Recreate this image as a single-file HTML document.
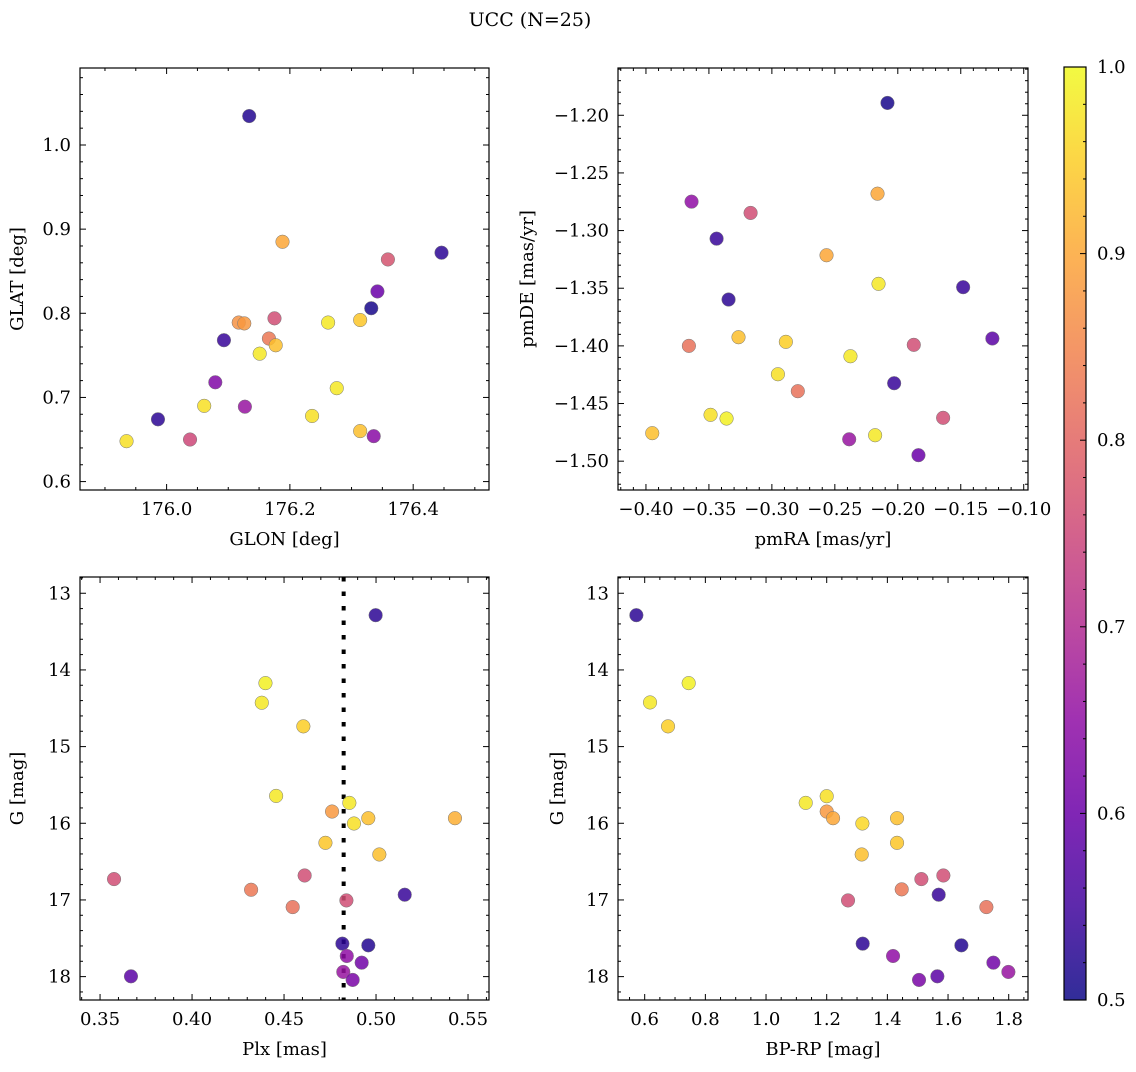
<!DOCTYPE html>
<html><head><meta charset="utf-8"><style>
html,body{margin:0;padding:0;background:#fff;}
svg text{font-family:"DejaVu Serif","Liberation Serif",serif;fill:#000;}
</style></head><body>
<svg id="fig" width="1136" height="1067" viewBox="0 0 1136 1067" xmlns="http://www.w3.org/2000/svg">
<text x="530" y="26" font-size="19" text-anchor="middle">UCC (N=25)</text>
</svg>
<script>
// Panel 1: GLON vs GLAT
const glonX=[176.134,176.188,176.446,176.359,176.342,176.332,176.175,176.117,176.126,176.262,176.314,176.093,176.166,176.177,176.151,176.079,176.276,176.061,176.127,176.236,175.986,175.935,176.038,176.314,176.336];
const glatY=[1.0344,0.885,0.872,0.864,0.826,0.806,0.794,0.789,0.788,0.789,0.792,0.768,0.770,0.762,0.752,0.718,0.711,0.690,0.689,0.678,0.674,0.648,0.650,0.660,0.654];
const probA=[0.52,0.9,0.53,0.77,0.6,0.51,0.76,0.87,0.88,0.98,0.94,0.54,0.83,0.93,0.98,0.63,0.98,0.97,0.66,0.97,0.53,0.97,0.75,0.93,0.64];
// Panel 2: pmRA vs pmDE
const pmraX=[-0.2082,-0.2161,-0.3638,-0.3169,-0.3439,-0.2566,-0.2153,-0.1481,-0.3344,-0.3659,-0.3265,-0.2889,-0.2376,-0.1873,-0.1249,-0.2952,-0.2029,-0.2794,-0.3487,-0.3360,-0.1640,-0.395,-0.2386,-0.2180,-0.1836];
const pmdeY=[-1.1893,-1.268,-1.2749,-1.2847,-1.307,-1.3214,-1.3462,-1.3491,-1.3598,-1.400,-1.3925,-1.3965,-1.409,-1.3991,-1.3936,-1.4246,-1.4324,-1.4393,-1.4598,-1.463,-1.4624,-1.4757,-1.481,-1.4775,-1.4948];
const probB=[0.51,0.9,0.65,0.76,0.54,0.9,0.98,0.54,0.53,0.82,0.93,0.95,0.98,0.76,0.58,0.97,0.54,0.82,0.97,0.99,0.76,0.93,0.66,0.98,0.6];
// Panel 3: Plx vs G
const plxX=[0.4998,0.4399,0.4379,0.4605,0.4457,0.4855,0.4761,0.4958,0.4880,0.5429,0.4725,0.5018,0.3576,0.4612,0.4321,0.4547,0.4839,0.5156,0.4817,0.4958,0.4841,0.4922,0.4822,0.4873,0.3668];
const gmagY=[13.286,14.172,14.428,14.736,15.643,15.734,15.847,15.934,16.003,15.934,16.255,16.407,16.728,16.681,16.867,17.093,17.006,16.932,17.570,17.592,17.731,17.818,17.939,18.043,17.996];
const probC=[0.53,0.99,0.98,0.95,0.98,0.98,0.88,0.93,0.97,0.91,0.94,0.93,0.76,0.76,0.83,0.82,0.76,0.54,0.53,0.52,0.65,0.61,0.66,0.62,0.58];
const plxMedian=[0.4824];
// Panel 4: BP-RP vs G
const bprpX=[0.5725,0.745,0.6176,0.6769,1.1308,1.2,1.2,1.2209,1.3176,1.4319,1.4319,1.3154,1.5121,1.5846,1.4473,1.7264,1.2703,1.5692,1.3187,1.6440,1.4187,1.7495,1.7989,1.5044,1.5648];
const gmag2Y=[13.286,14.172,14.424,14.736,15.734,15.647,15.847,15.934,16.003,15.934,16.255,16.407,16.728,16.681,16.862,17.093,17.006,16.932,17.570,17.592,17.731,17.818,17.939,18.043,17.996];
const probD=[0.53,0.99,0.98,0.95,0.98,0.97,0.88,0.9,0.96,0.93,0.94,0.93,0.76,0.76,0.83,0.82,0.76,0.54,0.53,0.52,0.65,0.61,0.66,0.62,0.58];
// Tick labels
const ticksA_x=[176.0,176.2,176.4]; const ticksA_y=[0.6,0.7,0.8,0.9,1.0];
const ticksB_x=[-0.40,-0.35,-0.30,-0.25,-0.20,-0.15,-0.10]; const ticksB_y=[-1.50,-1.45,-1.40,-1.35,-1.30,-1.25,-1.20];
const ticksC_x=[0.35,0.40,0.45,0.50,0.55]; const ticksG_y=[13,14,15,16,17,18];
const ticksD_x=[0.6,0.8,1.0,1.2,1.4,1.6,1.8];
const ticksCbar=[0.5,0.6,0.7,0.8,0.9,1.0];

const NS="http://www.w3.org/2000/svg";
const svg=document.getElementById('fig');
const FS=18;
function mk(tag,attrs,parent){const e=document.createElementNS(NS,tag);for(const k in attrs)e.setAttribute(k,attrs[k]);(parent||svg).appendChild(e);return e;}
const plasma=[[13,8,135],[65,4,157],[106,0,168],[143,13,164],[177,42,144],[204,71,120],[225,100,98],[242,132,75],[252,166,54],[252,206,37],[240,249,33]];
function cmap(v){let t=(v-0.5)/0.5;t=Math.max(0,Math.min(1,t));const p=t*(plasma.length-1);const i=Math.min(plasma.length-2,Math.floor(p));const f=p-i;const a=plasma[i],b=plasma[i+1];return 'rgb('+a.map((c,k)=>Math.round(c+(b[k]-c)*f)).join(',')+')';}
function fmt(v,d){const s=Math.abs(v).toFixed(d);return (v<0?'\u2212':'')+s;}

function panel(o){
  const g=mk('g',{});
  
  
  const X=v=>o.L+(v-o.xmin)/(o.xmax-o.xmin)*(o.R-o.L);
  const Y=o.invert?(v=>o.T+(v-o.ymin)/(o.ymax-o.ymin)*(o.B-o.T)):(v=>o.B-(v-o.ymin)/(o.ymax-o.ymin)*(o.B-o.T));
  const tg=mk('g',{stroke:'#000','stroke-width':1},g);
  
  
  const xs=o.xmajor/o.xsub;
  for(let v=Math.ceil(o.xmin/xs-1e-6)*xs;v<=o.xmax+1e-9;v+=xs){const px=X(v);const maj=Math.abs(v/o.xmajor-Math.round(v/o.xmajor))<1e-4;const len=maj?6:3;
    mk('line',{x1:px,x2:px,y1:o.B,y2:o.B-len},tg);mk('line',{x1:px,x2:px,y1:o.T,y2:o.T+len},tg);}
  const ys=o.ymajor/o.ysub;
  for(let v=Math.ceil(o.ymin/ys-1e-6)*ys;v<=o.ymax+1e-9;v+=ys){const py=Y(v);const maj=Math.abs(v/o.ymajor-Math.round(v/o.ymajor))<1e-4;const len=maj?6:3;
    mk('line',{y1:py,y2:py,x1:o.L,x2:o.L+len},tg);mk('line',{y1:py,y2:py,x1:o.R,x2:o.R-len},tg);}
  o.xt.forEach(v=>{const t=mk('text',{x:X(v),y:o.B+25,'font-size':FS,'text-anchor':'middle'},g);t.textContent=fmt(v,o.xd);
    
    });
  o.yt.forEach(v=>{const t=mk('text',{x:o.L-9,y:Y(v)+6,'font-size':FS,'text-anchor':'end'},g);t.textContent=fmt(v,o.yd);
    
    });
  const xl=mk('text',{x:(o.L+o.R)/2,y:o.B+55,'font-size':FS,'text-anchor':'middle'},g);xl.textContent=o.xlabel;
  
  
  const yl=mk('text',{x:o.ylx,y:(o.T+o.B)/2,'font-size':FS,'text-anchor':'middle',transform:'rotate(-90 '+o.ylx+' '+((o.T+o.B)/2)+')'},g);yl.textContent=o.ylabel;
  
  
  if(o.vline){o.vline.forEach(v=>{const l=mk('line',{x1:X(v),x2:X(v),y1:o.T,y2:o.B,stroke:'#000','stroke-width':4,'stroke-dasharray':'4.5 10'},g);
    
    });}
  o.xs.forEach((v,i)=>{const c=mk('circle',{cx:X(v),cy:Y(o.ys[i]),r:6.8,fill:cmap(o.cs[i]),'fill-opacity':0.85,stroke:'#777','stroke-width':0.5},g);
    
    });
  const fr=mk('rect',{x:o.L,y:o.T,width:o.R-o.L,height:o.B-o.T,fill:'none',stroke:'#000','stroke-width':1.2},g);
  
  
}
panel({name:'glon-glat-panel',L:80,R:489,T:68,B:490,xmin:175.8595,xmax:176.523,ymin:0.590,ymax:1.0915,xmajor:0.2,xsub:4,ymajor:0.1,ysub:5,xt:ticksA_x,yt:ticksA_y,xd:1,yd:1,xlabel:'GLON [deg]',ylabel:'GLAT [deg]',ylx:23,xs:glonX,ys:glatY,cs:probA});
panel({name:'proper-motion-panel',L:618,R:1028,T:68,B:490,xmin:-0.4222,xmax:-0.0966,ymin:-1.525,ymax:-1.159,xmajor:0.05,xsub:5,ymajor:0.05,ysub:5,xt:ticksB_x,yt:ticksB_y,xd:2,yd:2,xlabel:'pmRA [mas/yr]',ylabel:'pmDE [mas/yr]',ylx:533,xs:pmraX,ys:pmdeY,cs:probB});
panel({name:'parallax-panel',L:80,R:489,T:577,B:1000,invert:true,xmin:0.3391,xmax:0.5614,ymin:12.788,ymax:18.305,xmajor:0.05,xsub:5,ymajor:1,ysub:5,xt:ticksC_x,yt:ticksG_y,xd:2,yd:0,xlabel:'Plx [mas]',ylabel:'G [mag]',ylx:23,xs:plxX,ys:gmagY,cs:probC,vline:plxMedian});
panel({name:'cmd-panel',L:618,R:1028,T:577,B:1000,invert:true,xmin:0.512,xmax:1.8636,ymin:12.788,ymax:18.305,xmajor:0.2,xsub:4,ymajor:1,ysub:5,xt:ticksD_x,yt:ticksG_y,xd:1,yd:0,xlabel:'BP-RP [mag]',ylabel:'G [mag]',ylx:563,xs:bprpX,ys:gmag2Y,cs:probD});

(function(){
  const L=1064,R=1086,T=67,B=1000;
  const cg=mk('g',{});
  
  
  const defs=mk('defs',{},cg);
  const lg=mk('linearGradient',{id:'cb',x1:0,y1:1,x2:0,y2:0},defs);
  for(let i=0;i<=20;i++){mk('stop',{offset:(i/20),'stop-color':cmap(0.5+i/40),'stop-opacity':0.85},lg);}
  const r=mk('rect',{x:L,y:T,width:R-L,height:B-T,fill:'url(#cb)',stroke:'#000','stroke-width':1.2},cg);
  
  
  const Y=v=>B-(v-0.5)/0.5*(B-T);
  for(let k=0;k<=25;k++){const v=0.5+k*0.02;const maj=k%5===0;mk('line',{x1:R,x2:R-(maj?6:3),y1:Y(v),y2:Y(v),stroke:'#000','stroke-width':1},cg);}
  ticksCbar.forEach(v=>{const t=mk('text',{x:R+11,y:Y(v)+6,'font-size':FS},cg);t.textContent=v.toFixed(1);
    
    });
})();
</script>
</body></html>
